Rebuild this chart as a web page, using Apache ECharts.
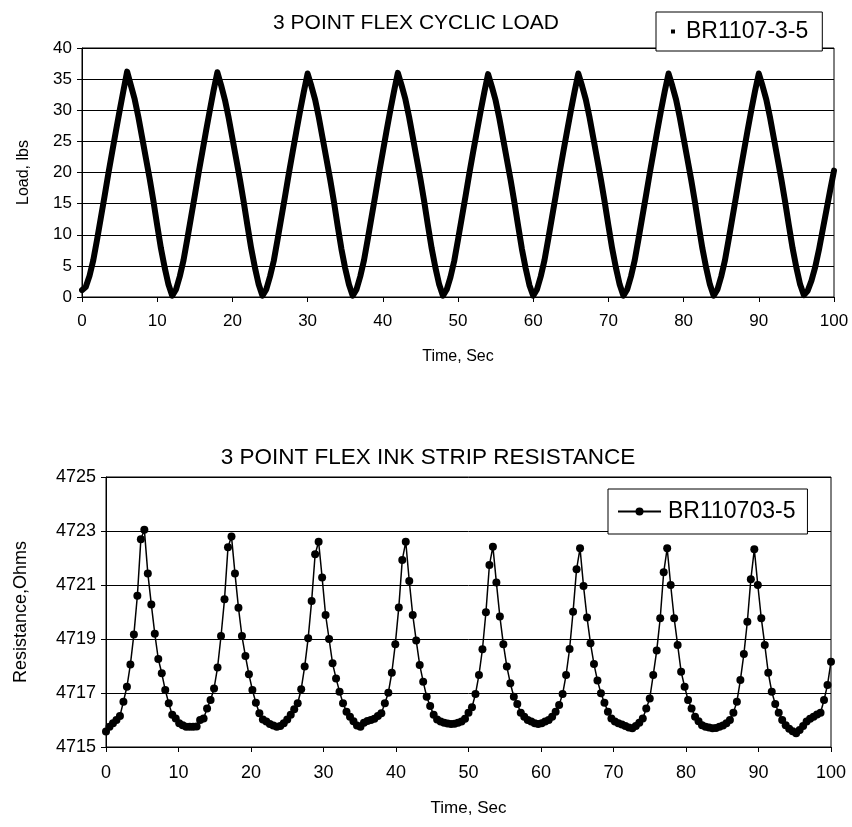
<!DOCTYPE html>
<html><head><meta charset="utf-8">
<script src="https://cdn.jsdelivr.net/npm/echarts@6/dist/echarts.min.js"></script>
<style>html,body{margin:0;padding:0;background:#fff}#c{width:852px;height:827px}</style>
</head><body><div id="c"></div><script>
// ---- data ----
const loadName = 'BR1107-3-5';
const resName = 'BR110703-5';
const loadStep = 0.5;           // s between load samples
const loadValues = [
 1.1, 1.6, 3.4, 5.9, 9.2, 12.7, 16.2, 19.8, 23.2, 26.6, 29.9, 33.1,
 36.2, 34.0, 31.8, 28.9, 25.6, 22.3, 19.0, 15.4, 11.5, 7.8, 4.7, 2.0,
 0.2, 1.2, 3.3, 5.9, 9.3, 12.8, 16.3, 19.9, 23.3, 26.7, 30.0, 33.2,
 36.1, 34.0, 31.7, 28.8, 25.5, 22.2, 18.9, 15.3, 11.5, 7.8, 4.7, 2.0,
 0.2, 1.2, 3.3, 5.8, 9.2, 12.7, 16.2, 19.8, 23.2, 26.6, 29.9, 33.0,
 35.9, 33.9, 31.7, 28.8, 25.5, 22.2, 18.9, 15.3, 11.4, 7.7, 4.6, 2.0,
 0.2, 1.2, 3.3, 5.9, 9.3, 12.8, 16.3, 19.9, 23.3, 26.7, 30.0, 33.1,
 36.0, 34.0, 31.8, 28.9, 25.6, 22.3, 19.0, 15.4, 11.5, 7.8, 4.7, 2.0,
 0.2, 1.2, 3.2, 5.8, 9.2, 12.7, 16.2, 19.8, 23.2, 26.5, 29.8, 32.9,
 35.8, 33.8, 31.6, 28.7, 25.4, 22.1, 18.8, 15.2, 11.4, 7.7, 4.6, 1.9,
 0.2, 1.2, 3.3, 5.9, 9.3, 12.8, 16.3, 19.9, 23.3, 26.6, 29.9, 33.0,
 35.9, 33.9, 31.7, 28.8, 25.5, 22.2, 18.9, 15.3, 11.5, 7.8, 4.7, 2.0,
 0.2, 1.2, 3.3, 5.9, 9.3, 12.8, 16.3, 19.9, 23.3, 26.7, 30.0, 33.1,
 35.9, 33.9, 31.7, 28.8, 25.5, 22.2, 18.9, 15.3, 11.5, 7.8, 4.7, 2.0,
 0.2, 1.2, 3.3, 5.9, 9.3, 12.8, 16.3, 19.9, 23.3, 26.7, 30.0, 33.1,
 35.9, 33.9, 31.7, 28.8, 25.5, 22.2, 18.9, 15.3, 11.5, 7.8, 4.7, 2.0,
 0.3, 1.0, 2.6, 4.8, 7.6, 10.8, 14.0, 17.2, 20.3
];
const resStep = 100 / 208;      // s between resistance samples
const resValues = [
 4715.57, 4715.75, 4715.88, 4716.00, 4716.15, 4716.68, 4717.23, 4718.06, 4719.17, 4720.60, 4722.69, 4723.05,
 4721.43, 4720.28, 4719.19, 4718.26, 4717.73, 4717.11, 4716.62, 4716.19, 4716.06, 4715.88, 4715.81, 4715.75,
 4715.75, 4715.75, 4715.76, 4716.00, 4716.06, 4716.43, 4716.74, 4717.17, 4717.94, 4719.11, 4720.47, 4722.40, 4722.80,
 4721.43, 4720.16, 4719.11, 4718.37, 4717.69, 4717.11, 4716.64, 4716.25, 4716.02, 4715.94, 4715.85, 4715.80,
 4715.75, 4715.78, 4715.88, 4716.02, 4716.19, 4716.40, 4716.62, 4717.14, 4717.98, 4719.03, 4720.41, 4722.14, 4722.60,
 4721.28, 4719.89, 4719.00, 4718.10, 4717.54, 4717.05, 4716.62, 4716.31, 4716.12, 4715.95, 4715.80, 4715.75,
 4715.90, 4715.96, 4716.00, 4716.05, 4716.15, 4716.25, 4716.62, 4717.01, 4717.75, 4718.81, 4720.17, 4721.93, 4722.60,
 4721.15, 4719.89, 4718.94, 4718.04, 4717.42, 4716.86, 4716.52, 4716.19, 4716.02, 4715.94, 4715.90, 4715.87,
 4715.85, 4715.86, 4715.90, 4715.94, 4716.05, 4716.27, 4716.47, 4716.96, 4717.67, 4718.62, 4719.99, 4721.74, 4722.42,
 4721.09, 4719.83, 4718.81, 4717.98, 4717.36, 4716.86, 4716.59, 4716.27, 4716.12, 4716.00, 4715.94, 4715.88,
 4715.85, 4715.88, 4715.94, 4716.00, 4716.12, 4716.31, 4716.56, 4716.96, 4717.67, 4718.63, 4720.01, 4721.58, 4722.36,
 4720.96, 4719.80, 4718.84, 4718.07, 4717.46, 4716.99, 4716.64, 4716.31, 4716.06, 4715.94, 4715.88, 4715.83,
 4715.78, 4715.72, 4715.69, 4715.78, 4715.90, 4716.06, 4716.43, 4716.80, 4717.67, 4718.57, 4719.77, 4721.47, 4722.36,
 4721.00, 4719.77, 4718.78, 4717.79, 4717.23, 4716.74, 4716.43, 4716.12, 4715.95, 4715.81, 4715.75, 4715.72,
 4715.69, 4715.70, 4715.75, 4715.80, 4715.88, 4716.00, 4716.27, 4716.68, 4717.48, 4718.44, 4719.64, 4721.21, 4722.32,
 4721.00, 4719.77, 4718.78, 4717.75, 4717.05, 4716.59, 4716.27, 4716.00, 4715.81, 4715.68, 4715.58,
 4715.51, 4715.63, 4715.78, 4715.94, 4716.05, 4716.12, 4716.20, 4716.27, 4716.74, 4717.30, 4718.16
];
const timeAxis = { min: 0, max: 100, interval: 10 };
const loadAxis = { min: 0, max: 40, interval: 5 };
const resAxis = { min: 4715, max: 4725, interval: 2 };
const titles = ['3 POINT FLEX CYCLIC LOAD', '3 POINT FLEX INK STRIP RESISTANCE'];
const axisNames = { time: 'Time, Sec', load: 'Load, lbs', res: 'Resistance,Ohms' };

// ---- chart ----
const FONT = '"Liberation Sans", Arial, sans-serif';
const loadData = loadValues.map((v, i) => [i * loadStep, v]);
const resData = resValues.map((v, i) => [i * resStep, v]);
const plain = v => String(v);

const axisCommon = {
  axisLine: { show: true, lineStyle: { color: '#000', width: 1 } },
  axisTick: { show: true, inside: false, length: 5, lineStyle: { color: '#000' } },
  splitLine: { show: false },
  nameTextStyle: { color: '#000', fontFamily: FONT }
};

const chart = echarts.init(document.getElementById('c'), null, { renderer: 'canvas' });
chart.setOption({
  animation: false,
  backgroundColor: '#fff',
  title: [
    { text: titles[0], left: 411, top: 8, textAlign: 'center',
      textStyle: { fontFamily: FONT, fontWeight: 'normal', fontSize: 21, color: '#000' } },
    { text: titles[1], left: 423, top: 441, textAlign: 'center',
      textStyle: { fontFamily: FONT, fontWeight: 'normal', fontSize: 22.5, color: '#000' } }
  ],
  grid: [
    { left: 82, right: 18, top: 48, height: 249, show: true, borderColor: '#000', borderWidth: 1, backgroundColor: 'transparent' },
    { left: 106, right: 21, top: 477, height: 270, show: true, borderColor: '#000', borderWidth: 1, backgroundColor: 'transparent' }
  ],
  legend: [
    { data: [{ name: loadName, icon: 'rect' }], left: 656, top: 12, orient: 'vertical',
      itemWidth: 4, itemHeight: 4, padding: [8, 14, 8, 15],
      backgroundColor: '#fff', borderColor: '#000', borderWidth: 1, borderRadius: 0,
      textStyle: { fontFamily: FONT, fontSize: 23, color: '#000', padding: [0, 0, 0, 6] } },
    { data: [resName], left: 608, top: 489, orient: 'vertical',
      itemWidth: 43, itemHeight: 10, padding: [11, 12, 11, 9],
      backgroundColor: '#fff', borderColor: '#000', borderWidth: 1, borderRadius: 0,
      textStyle: { fontFamily: FONT, fontSize: 23, color: '#000', padding: [0, 0, 0, 2] } }
  ],
  xAxis: [
    Object.assign({}, axisCommon, { type: 'value', gridIndex: 0, min: timeAxis.min, max: timeAxis.max, interval: timeAxis.interval,
      name: axisNames.time, nameLocation: 'middle', nameGap: 52,
      nameTextStyle: { color: '#000', fontFamily: FONT, fontSize: 16 },
      axisLabel: { color: '#000', fontFamily: FONT, fontSize: 17, margin: 16, formatter: plain } }),
    Object.assign({}, axisCommon, { type: 'value', gridIndex: 1, min: timeAxis.min, max: timeAxis.max, interval: timeAxis.interval,
      name: axisNames.time, nameLocation: 'middle', nameGap: 53,
      nameTextStyle: { color: '#000', fontFamily: FONT, fontSize: 17 },
      axisLabel: { color: '#000', fontFamily: FONT, fontSize: 18, margin: 17, formatter: plain } })
  ],
  yAxis: [
    Object.assign({}, axisCommon, { type: 'value', gridIndex: 0, min: loadAxis.min, max: loadAxis.max, interval: loadAxis.interval,
      name: axisNames.load, nameLocation: 'middle', nameGap: 50, nameRotate: 90,
      nameTextStyle: { color: '#000', fontFamily: FONT, fontSize: 16 },
      splitLine: { show: true, lineStyle: { color: '#000', width: 1 } },
      axisLabel: { color: '#000', fontFamily: FONT, fontSize: 17, margin: 10, formatter: plain } }),
    Object.assign({}, axisCommon, { type: 'value', gridIndex: 1, min: resAxis.min, max: resAxis.max, interval: resAxis.interval,
      name: axisNames.res, nameLocation: 'middle', nameGap: 76, nameRotate: 90,
      nameTextStyle: { color: '#000', fontFamily: FONT, fontSize: 18 },
      splitLine: { show: true, lineStyle: { color: '#000', width: 1 } },
      axisLabel: { color: '#000', fontFamily: FONT, fontSize: 18, margin: 10, formatter: plain } })
  ],
  series: [
    { name: loadName, type: 'line', xAxisIndex: 0, yAxisIndex: 0, data: loadData,
      showSymbol: false, symbol: 'rect', symbolSize: 4,
      lineStyle: { color: '#000', width: 6, join: 'round', cap: 'round' },
      itemStyle: { color: '#000' } },
    { name: resName, type: 'line', xAxisIndex: 1, yAxisIndex: 1, data: resData,
      symbol: 'circle', symbolSize: 8, showAllSymbol: true,
      lineStyle: { color: '#000', width: 1.5 },
      itemStyle: { color: '#000' } }
  ]
});
</script></body></html>
